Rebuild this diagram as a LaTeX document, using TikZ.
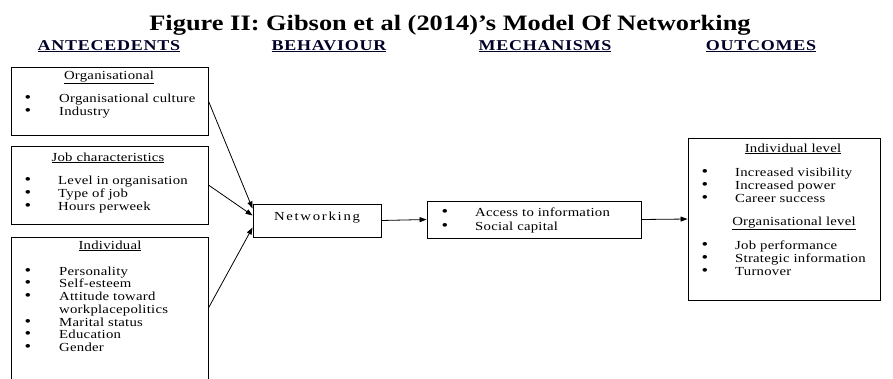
\documentclass[tikz,border=0pt]{standalone}
\usepackage{graphicx}
\usepackage{fontspec}
\setmainfont[FakeStretch=1.2]{Liberation Serif}
\newfontfamily\listfont[FakeStretch=1.2, LetterSpace=2]{Liberation Serif}
\newfontfamily\wordfont[FakeStretch=1.2, LetterSpace=14]{Liberation Serif}
\newfontfamily\headfont[FakeStretch=1.2, LetterSpace=5]{Liberation Serif}
\usetikzlibrary{arrows.meta, positioning}

\newcommand{\bigdot}{\scalebox{1.3}{\textbullet}}

\tikzset{
  box/.style={draw=black, line width=0.9pt, inner sep=0pt},
  colhead/.style={font=\headfont\fontsize{15}{15}\selectfont\bfseries, text=black!85!blue, anchor=base, inner sep=0pt},
  subhead/.style={font=\listfont\fontsize{12.3}{12}\selectfont, anchor=base, inner sep=0pt},
  item/.style={font=\listfont\fontsize{12.3}{12}\selectfont, anchor=base west, inner sep=0pt},
  dot/.style={font=\fontsize{12}{12}\selectfont, anchor=base, inner sep=0pt},
  arr/.style={-{Triangle[length=7pt,width=5pt]}, line width=0.8pt},
}

\begin{document}
\begin{tikzpicture}[x=1pt, y=-1pt]
    \useasboundingbox (0,0) rectangle (893,378);

    % Title and column heads
    \node[font=\fontsize{22}{22}\selectfont\bfseries, anchor=base, inner sep=0pt] (title) at (450,30)
      {Figure II: Gibson et al (2014)'s Model Of Networking};
    \node[colhead] (antecedents) at (109,50) {\underline{ANTECEDENTS}};
    \node[colhead] (behaviour) at (329,50) {\underline{BEHAVIOUR}};
    \node[colhead] (mechanisms) at (545,50) {\underline{MECHANISMS}};
    \node[colhead] (outcomes) at (761,50) {\underline{OUTCOMES}};

    % Antecedent boxes
    \node[box, minimum width=197, minimum height=68] (org) at (109.5,101) {};
    \node[box, minimum width=197, minimum height=78] (job) at (109.5,185) {};
    \node[box, minimum width=197, minimum height=142] (ind) at (109.5,308) {};

    \node[subhead] (orghead) at (109,79) {\underline{Organisational}};
    \foreach \txt [count=\i from 0] in {Organisational culture, Industry} {
      \node[dot] (orgdot\i) at (28,{102+13*\i}) {\bigdot};
      \node[item] (orgitem\i) at (59,{102+13*\i}) {\txt};
    }

    \node[subhead] (jobhead) at (108,161) {\underline{Job characteristics}};
    \foreach \txt [count=\i from 0] in {Level in organisation, Type of job, Hours perweek} {
      \node[dot] (jobdot\i) at (28,{184+13*\i}) {\bigdot};
      \node[item] (jobitem\i) at (58,{184+13*\i}) {\txt};
    }

    \node[subhead] (indhead) at (110,249) {\underline{Individual}};
    \foreach \txt [count=\i from 0] in {Personality, Self-esteem, Attitude toward} {
      \node[dot] (inddot\i) at (28,{275+12.8*\i}) {\bigdot};
      \node[item] (inditem\i) at (59,{275+12.8*\i}) {\txt};
    }
    \node[item] (indcont) at (59,313) {workplacepolitics};
    \foreach \txt [count=\i from 3] in {Marital status, Education, Gender} {
      \node[dot] (inddot\i) at (28,{326+12.8*(\i-3)}) {\bigdot};
      \node[item] (inditem\i) at (59,{326+12.8*(\i-3)}) {\txt};
    }

    % Behaviour
    \node[box, minimum width=128, minimum height=33] (net) at (317,220.5) {};
    \node[font=\wordfont\fontsize{12.3}{12}\selectfont, anchor=base, inner sep=0pt] (netlabel) at (317,220) {Networking};

    % Mechanisms
    \node[box, minimum width=214, minimum height=37] (mech) at (534,219.5) {};
    \foreach \txt [count=\i from 0] in {Access to information, Social capital} {
      \node[dot] (mechdot\i) at (445,{216+14*\i}) {\bigdot};
      \node[item] (mechitem\i) at (475,{216+14*\i}) {\txt};
    }

    % Outcomes
    \node[box, minimum width=192, minimum height=162] (out) at (784,219) {};
    \node[subhead] (outhead1) at (793,152) {\underline{Individual level}};
    \foreach \txt [count=\i from 0] in {Increased visibility, Increased power, Career success} {
      \node[dot] (outdot\i) at (705,{176+13*\i}) {\bigdot};
      \node[item] (outitem\i) at (735,{176+13*\i}) {\txt};
    }
    \node[subhead] (outhead2) at (794,225) {\underline{Organisational level}};
    \foreach \txt [count=\i from 3] in {Job performance, Strategic information, Turnover} {
      \node[dot] (outdot\i) at (705,{249+13*(\i-3)}) {\bigdot};
      \node[item] (outitem\i) at (735,{249+13*(\i-3)}) {\txt};
    }

    % Arrows
    \draw[arr] (org.east) -- ([yshift=12pt]net.west);
    \draw[arr] (job.east) -- ([yshift=5pt]net.west);
    \draw[arr] (ind.east) -- ([yshift=-7pt]net.west);
    \draw[arr] (net.east) -- (mech.west);
    \draw[arr] (mech.east) -- (out.west);
\end{tikzpicture}
\end{document}
